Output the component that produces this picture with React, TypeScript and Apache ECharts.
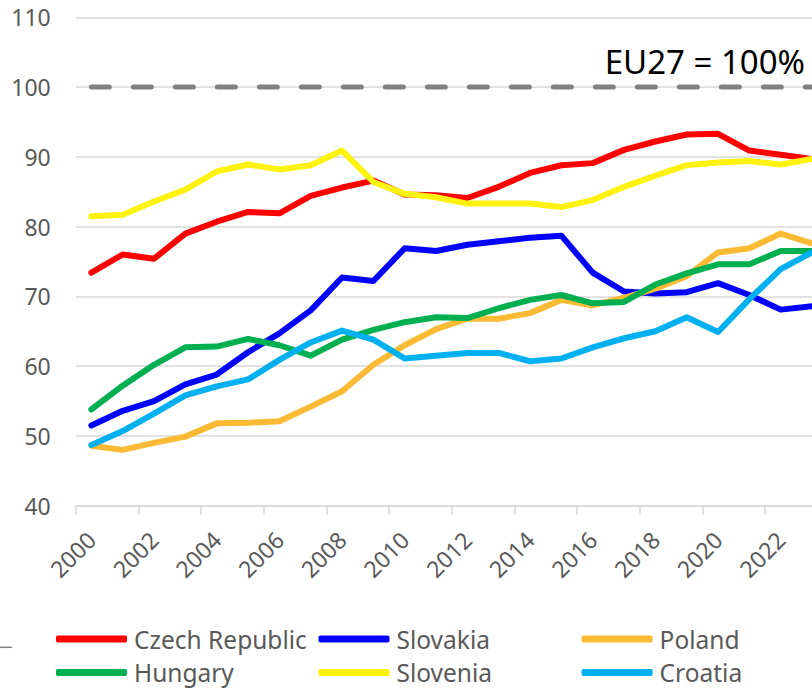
import React, { useEffect, useRef } from "react";
import * as echarts from "echarts";

const years = [
  "2000", "2001", "2002", "2003", "2004", "2005", "2006", "2007", "2008", "2009", "2010", "2011",
  "2012", "2013", "2014", "2015", "2016", "2017", "2018", "2019", "2020", "2021", "2022", "2023",
];

const czech = [73.4, 76.0, 75.4, 79.0, 80.7, 82.1, 81.9, 84.4, 85.6, 86.6, 84.6, 84.5, 84.1, 85.7, 87.7, 88.8, 89.1, 91.0, 92.2, 93.2, 93.3, 90.9, 90.3, 89.7];
const slovakia = [51.5, 53.6, 55.0, 57.4, 58.8, 62.0, 64.7, 68.0, 72.7, 72.2, 76.9, 76.5, 77.4, 77.9, 78.4, 78.7, 73.4, 70.7, 70.4, 70.6, 71.9, 70.2, 68.1, 68.6];
const poland = [48.6, 48.0, 49.0, 49.9, 51.8, 51.9, 52.1, 54.2, 56.4, 60.2, 63.0, 65.3, 66.8, 66.8, 67.6, 69.5, 68.7, 69.8, 71.1, 72.9, 76.3, 76.9, 79.0, 77.6];
const hungary = [53.8, 57.2, 60.2, 62.7, 62.8, 63.9, 63.0, 61.5, 63.8, 65.2, 66.3, 67.0, 66.9, 68.3, 69.5, 70.2, 69.0, 69.2, 71.7, 73.3, 74.6, 74.6, 76.5, 76.5];
const slovenia = [81.5, 81.7, 83.6, 85.3, 87.9, 88.9, 88.2, 88.8, 90.9, 86.4, 84.7, 84.2, 83.3, 83.3, 83.3, 82.8, 83.8, 85.7, 87.3, 88.8, 89.2, 89.4, 88.9, 89.7];
const croatia = [48.7, 50.7, 53.2, 55.8, 57.1, 58.1, 60.9, 63.4, 65.1, 63.8, 61.1, 61.5, 61.9, 61.9, 60.7, 61.1, 62.7, 64.0, 65.0, 67.0, 64.9, 69.6, 73.9, 76.3];
const eu27 = years.map(() => 100);

const seriesNames = ["Czech Republic", "Slovakia", "Poland", "Hungary", "Slovenia", "Croatia"];
const seriesData = [czech, slovakia, poland, hungary, slovenia, croatia];
const seriesColors = ["#ff0000", "#0000ff", "#fbba33", "#00b050", "#fff20f", "#00b0f0"];

const FONT = "'Noto Sans', sans-serif";

export default function App() {
  const ref = useRef<HTMLDivElement>(null);

  useEffect(() => {
    if (!ref.current) return;
    const chart = echarts.init(ref.current, undefined, { renderer: "svg" });

    const lines = seriesNames.map((name, i) => ({
      name,
      type: "line",
      data: seriesData[i],
      symbol: "none",
      showSymbol: false,
      color: seriesColors[i],
      lineStyle: { color: seriesColors[i], width: 6, cap: "round", join: "round" },
      itemStyle: { color: seriesColors[i] },
      z: 3 + i,
    }));

    const legendCommon = {
      orient: "vertical",
      top: 626.5,
      padding: 0,
      itemGap: 8.5,
      itemWidth: 71,
      itemHeight: 7,
      icon: "roundRect",
      itemStyle: { borderWidth: 0 },
      textStyle: { fontFamily: FONT, fontSize: 24.5, color: "#595959", padding: [0, 0, 0, 2] },
    };

    chart.setOption({
      animation: false,
      backgroundColor: "#ffffff",
      grid: { left: 75.7, top: 17.3, right: 12.3, bottom: 182.3, containLabel: false },
      legend: [
        { ...legendCommon, left: 56, data: ["Czech Republic", "Hungary"] },
        { ...legendCommon, left: 318.5, data: ["Slovakia", "Slovenia"] },
        { ...legendCommon, left: 581.6, data: ["Poland", "Croatia"] },
      ],
      xAxis: {
        type: "category",
        data: years,
        boundaryGap: true,
        axisLine: { lineStyle: { color: "#d9d9d9", width: 1.5 } },
        axisTick: { show: true, interval: 1, length: 9, lineStyle: { color: "#d9d9d9", width: 1.5 } },
        axisLabel: {
          interval: 1,
          rotate: 45,
          margin: 30,
          fontFamily: FONT,
          fontSize: 23,
          color: "#595959",
        },
        splitLine: { show: false },
      },
      yAxis: {
        type: "value",
        min: 40,
        max: 110,
        interval: 10,
        axisLine: { show: false },
        axisTick: { show: false },
        axisLabel: { margin: 25, fontFamily: FONT, fontSize: 23, color: "#595959" },
        splitLine: { lineStyle: { color: "#d9d9d9", width: 1.5 } },
      },
      series: [
        {
          name: "EU27",
          type: "line",
          data: eu27,
          symbol: "none",
          showSymbol: false,
          lineStyle: { color: "#808080", width: 5, type: [18, 24], cap: "round" },
          z: 2,
        },
        ...lines,
      ],
      graphic: [
        {
          type: "text",
          x: 805,
          y: 61,
          style: {
            text: "EU27 = 100%",
            fontFamily: FONT,
            fontSize: 33,
            fill: "#000000",
            textAlign: "right",
            textVerticalAlign: "middle",
          },
          z: 100,
        },
        {
          type: "line",
          shape: { x1: 0, y1: 647.3, x2: 12, y2: 647.3 },
          style: { stroke: "#808080", lineWidth: 1.5 },
        },
      ],
    });

    return () => chart.dispose();
  }, []);

  return (
    <div
      style={{
        position: "fixed",
        left: 0,
        top: 0,
        width: 812,
        height: 688,
        overflow: "hidden",
        background: "#ffffff",
      }}
    >
      <div ref={ref} style={{ width: 840, height: 688 }} />
    </div>
  );
}
